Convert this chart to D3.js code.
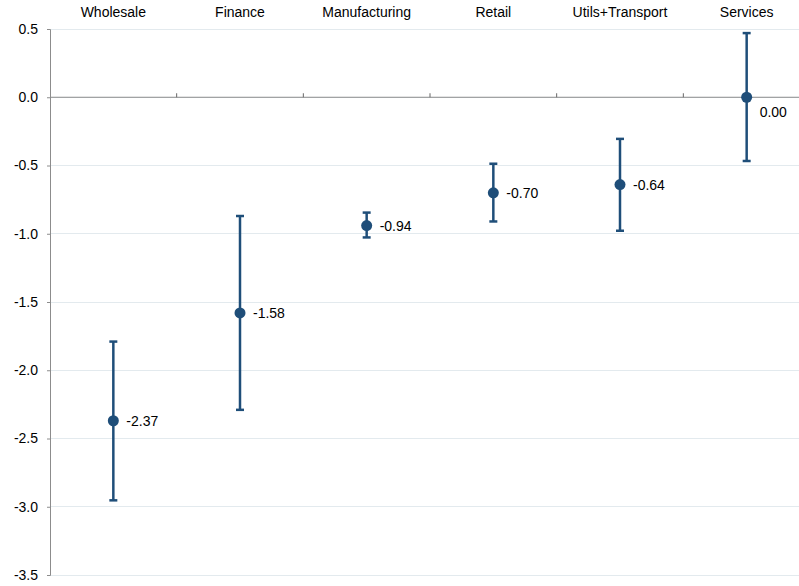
<!DOCTYPE html>
<html><head><meta charset="utf-8">
<script src="https://cdn.jsdelivr.net/npm/d3@7/dist/d3.min.js"></script>
<style>body{margin:0;background:#fff}svg{display:block}text{font-family:"Liberation Sans",Arial,sans-serif}</style>
</head><body><svg id="c" width="799" height="586"></svg>
<script>
const categories = ["Wholesale","Finance","Manufacturing","Retail","Utils+Transport","Services"];
const values = [-2.37,-1.58,-0.94,-0.70,-0.64,0.00];
const upper = [-1.79,-0.87,-0.845,-0.487,-0.305,0.47];
const lower = [-2.953,-2.29,-1.027,-0.91,-0.978,-0.467];
const yTicks = [0.5,0.0,-0.5,-1.0,-1.5,-2.0,-2.5,-3.0,-3.5];

const svg = d3.select("#c");
const color = "#1f4e79";
const fmt1 = d => d3.format(".1f")(d).replace("\u2212","-");
const fmt2 = d => d3.format(".2f")(d).replace("\u2212","-");
const x = d3.scaleBand().domain(categories).range([50,810]);
const y = d3.scaleLinear().domain([-3.5,0.5]).range([575,29]);

// gridlines
svg.append("g").selectAll("line").data(yTicks).join("line")
  .attr("x1",50).attr("x2",799).attr("y1",d=>y(d)).attr("y2",d=>y(d))
  .attr("stroke","#e3eaee").attr("stroke-width",1).attr("shape-rendering","crispEdges");

// y axis
const ya = svg.append("g").attr("transform","translate(50,0)")
  .call(d3.axisLeft(y).tickValues(yTicks).tickFormat(fmt1).tickSize(3).tickPadding(9));
ya.select(".domain").attr("stroke","#8c8c8c");
ya.selectAll(".tick line").attr("stroke","#8c8c8c");
ya.selectAll(".tick text").attr("font-size",14).attr("fill","#000").attr("font-family","Liberation Sans, Arial, sans-serif");

// zero axis line with category boundary ticks
svg.append("line").attr("x1",50).attr("x2",799).attr("y1",y(0)).attr("y2",y(0))
  .attr("stroke","#8c8c8c").attr("stroke-width",1);
svg.append("g").selectAll("line").data(categories.slice(1)).join("line")
  .attr("x1",d=>x(d)).attr("x2",d=>x(d)).attr("y1",y(0)-4).attr("y2",y(0))
  .attr("stroke","#666").attr("stroke-width",1);

// category labels top
svg.append("g").selectAll("text").data(categories).join("text")
  .attr("x",d=>x(d)+x.bandwidth()/2).attr("y",17).attr("text-anchor","middle")
  .attr("font-size",14).attr("fill","#000").text(d=>d);

// error bars
const cx = i => x(categories[i]) + x.bandwidth()/2;
const g = svg.append("g");
categories.forEach((c,i)=>{
  g.append("line").attr("x1",cx(i)).attr("x2",cx(i)).attr("y1",y(upper[i])).attr("y2",y(lower[i]))
    .attr("stroke",color).attr("stroke-width",2.5);
  [upper[i],lower[i]].forEach(v=>{
    g.append("line").attr("x1",cx(i)-4).attr("x2",cx(i)+4).attr("y1",y(v)).attr("y2",y(v))
      .attr("stroke",color).attr("stroke-width",2.5);
  });
  g.append("circle").attr("cx",cx(i)).attr("cy",y(values[i])).attr("r",5.5).attr("fill",color);
  const below = values[i] === 0;
  g.append("text").attr("x",cx(i)+13).attr("y",y(values[i]) + (below ? 15 : 0)).attr("dy","0.36em")
    .attr("font-size",14).attr("fill","#000").text(fmt2(values[i]));
});
</script></body></html>
